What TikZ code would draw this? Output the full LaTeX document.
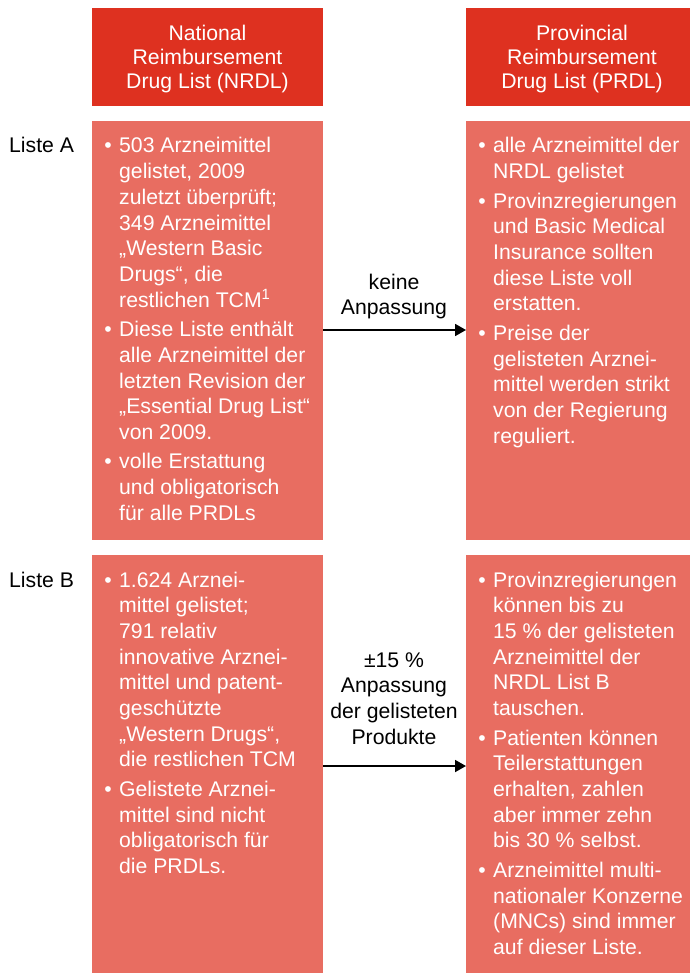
\documentclass[tikz,border=0pt]{standalone}
\usepackage{fontspec}
\setmainfont{Liberation Sans}
\usetikzlibrary{arrows.meta}
\definecolor{hdrred}{RGB}{222,49,32}
\definecolor{boxred}{RGB}{232,109,97}
\newcommand\bul{\leavevmode\llap{•\hspace{7.5pt}}}
\newcommand\bgap{\vskip 3.8pt}
\newcommand\txtlines[1]{\vtop{\hsize=300pt\parindent=0pt\parskip=0pt\baselineskip=25.7pt #1}}
\newcommand\ctrlines[2]{\vtop{\hsize=240pt\parindent=0pt\parskip=0pt\baselineskip=#1\centering #2\par}}
\tikzset{
  hdr/.style={fill=hdrred, draw=none, anchor=north west, minimum width=231pt, minimum height=98pt, inner sep=0pt},
  bodybox/.style={fill=boxred, draw=none, anchor=north west, inner sep=0pt},
  wtxt/.style={text=white, inner sep=0pt, font=\fontsize{21.2}{25.7}\selectfont},
  btxt/.style={text=black, inner sep=0pt, font=\fontsize{21.2}{25.7}\selectfont},
  arr/.style={draw=black, line width=1.8pt, -{Triangle[length=11pt,width=12pt]}}
}
\begin{document}
\begin{tikzpicture}[x=1pt,y=-1pt]
\useasboundingbox (0,0) rectangle (690,973);
% headers
\node[hdr] (hl) at (92,8) {};
\node[hdr, minimum width=224pt] (hr) at (466,8) {};
\node[wtxt, anchor=base] (hlt) at (207.5,40.2) {\ctrlines{24.4pt}{National\\Reimbursement\\Drug List (NRDL)}};
\node[wtxt, anchor=base] (hrt) at (582,40.2) {\ctrlines{24.4pt}{Provincial\\Reimbursement\\Drug List (PRDL)}};
% body boxes
\node[bodybox, minimum width=231pt, minimum height=419pt] (la) at (92,121) {};
\node[bodybox, minimum width=224pt, minimum height=419pt] (ra) at (466,121) {};
\node[bodybox, minimum width=231pt, minimum height=418pt] (lb) at (92,555) {};
\node[bodybox, minimum width=224pt, minimum height=418pt] (rb) at (466,555) {};
% row labels
\node[btxt, anchor=base west] (lista) at (9,153) {Liste A};
\node[btxt, anchor=base west] (listb) at (9,587) {Liste B};
% body texts
\node[wtxt, anchor=base west] (tla) at (119,153) {\txtlines{%
\bul 503 Arzneimittel\par gelistet, 2009\par zuletzt überprüft;\par 349 Arzneimittel\par „Western Basic\par Drugs“, die\par restlichen TCM\textsuperscript{1}\par\bgap
\bul Diese Liste enthält\par alle Arzneimittel der\par letzten Revision der\par „Essential Drug List“\par von 2009.\par\bgap
\bul volle Erstattung\par und obligatorisch\par für alle PRDLs\par}};
\node[wtxt, anchor=base west] (tra) at (493,153) {\txtlines{%
\bul alle Arzneimittel der\par NRDL gelistet\par\bgap
\bul Provinzregierungen\par und Basic Medical\par Insurance sollten\par diese Liste voll\par erstatten.\par\bgap
\bul Preise der\par gelisteten Arznei-\par mittel werden strikt\par von der Regierung\par reguliert.\par}};
\node[wtxt, anchor=base west] (tlb) at (119,587) {\txtlines{%
\bul 1.624 Arznei-\par mittel gelistet;\par 791 relativ\par innovative Arznei-\par mittel und patent-\par geschützte\par „Western Drugs“,\par die restlichen TCM\par\bgap
\bul Gelistete Arznei-\par mittel sind nicht\par obligatorisch für\par die PRDLs.\par}};
\node[wtxt, anchor=base west] (trb) at (493,587) {\txtlines{%
\bul Provinzregierungen\par können bis zu\par 15~\% der gelisteten\par Arzneimittel der\par NRDL List B\par tauschen.\par\bgap
\bul Patienten können\par Teilerstattungen\par erhalten, zahlen\par aber immer zehn\par bis 30~\% selbst.\par\bgap
\bul Arzneimittel multi-\par nationaler Konzerne\par (MNCs) sind immer\par auf dieser Liste.\par}};
% arrows and labels
\coordinate (ya) at (0,330);
\coordinate (yb) at (0,766);
\draw[arr] (la.east |- ya) -- (ra.west |- ya);
\draw[arr] (lb.east |- yb) -- (rb.west |- yb);
\node[btxt, anchor=base] (lba) at (394,289) {\ctrlines{25.7pt}{keine\\Anpassung}};
\node[btxt, anchor=base] (lbb) at (394,667) {\ctrlines{25.7pt}{±15~\%\\Anpassung\\der gelisteten\\Produkte}};
\end{tikzpicture}
\end{document}
